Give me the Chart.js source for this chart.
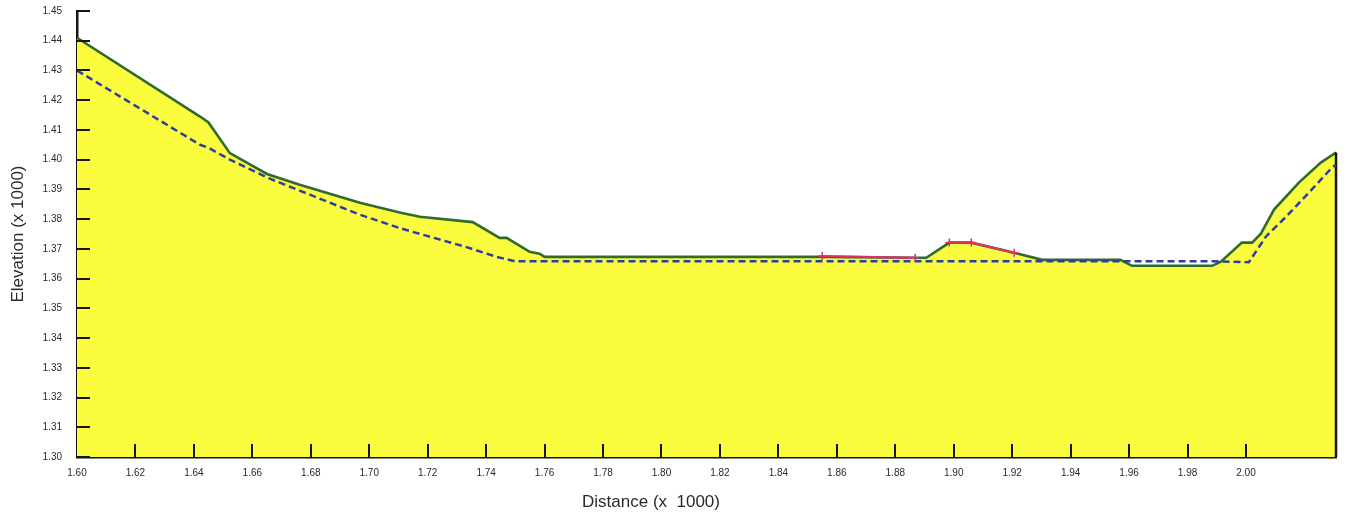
<!DOCTYPE html>
<html>
<head>
<meta charset="utf-8">
<title>Elevation profile</title>
<script src="https://cdn.jsdelivr.net/npm/chart.js@4"></script>
<style>
  html, body { margin: 0; padding: 0; background: #fff; }
  #wrap { width: 1346px; height: 517px; }
</style>
</head>
<body>
<div id="wrap"><canvas id="profile" width="1346" height="517"></canvas></div>
<script>
// profile values (x 1000)
const groundX = [1.600, 1.6421, 1.6450, 1.6523, 1.665, 1.6762, 1.6968, 1.7104, 1.7173, 1.7354, 1.7446, 1.7470, 1.7549, 1.7583, 1.7600,
  1.8550, 1.8868, 1.8906, 1.8985, 1.9060, 1.9207, 1.9303, 1.9570, 1.9610, 1.9884, 1.9914, 1.9986, 2.0021, 2.0051, 2.0096,
  2.0181, 2.0256, 2.0308];
const groundY = [1.4410, 1.4145, 1.4125, 1.4022, 1.3952, 1.3916, 1.3855, 1.3822, 1.3808, 1.3790, 1.3737, 1.3737, 1.3690, 1.3684, 1.3673,
  1.3673, 1.3670, 1.3670, 1.3721, 1.3721, 1.3687, 1.3663, 1.3663, 1.3643, 1.3643, 1.3657, 1.3721, 1.3721, 1.3751, 1.3832,
  1.3923, 1.3990, 1.4024];

const designX = [1.600, 1.6421, 1.6450, 1.6523, 1.665, 1.6762, 1.6968, 1.7104, 1.7217, 1.7333, 1.7436, 1.7500,
  1.9900, 2.0010, 2.0068, 2.0137, 2.0215, 2.0294, 2.0308];
const designY = [1.4300, 1.4050, 1.4040, 1.4000, 1.3940, 1.3896, 1.3815, 1.3770, 1.3738, 1.3706, 1.3673, 1.3658,
  1.3658, 1.3655, 1.3741, 1.3808, 1.3889, 1.3973, 1.3983];

// highlighted (red) stretches of the ground line
const redAX = [1.8550, 1.8868];
const redAY = [1.3676, 1.3670];
const redBX = [1.8985, 1.9060, 1.9207];
const redBY = [1.3721, 1.3721, 1.3687];

const xTickMax = 2.00;
const yMin = 1.30, yMax = 1.45;

const pts = (xs, ys) => xs.map((x, i) => ({ x, y: ys[i] }));
const lastX = groundX[groundX.length - 1];
const lastY = groundY[groundY.length - 1];

const axisColor = '#151515';
const textColor = '#2a2a2a';
const tickFont = { family: '"Liberation Sans", Arial, sans-serif', size: 10 };

// tick marks pointing into the plot, plus the x title
const innerTicks = {
  id: 'innerTicks',
  afterDatasetsDraw(chart) {
    const { ctx, chartArea: a, scales: { x, y } } = chart;
    ctx.save();
    ctx.strokeStyle = axisColor;
    ctx.lineWidth = 2;
    ctx.beginPath();
    y.ticks.forEach(t => {
      const py = Math.round(y.getPixelForValue(t.value));
      ctx.moveTo(a.left, py); ctx.lineTo(a.left + 13, py);
    });
    x.ticks.forEach(t => {
      if (t.value <= 1.6001) return;
      const px = Math.round(x.getPixelForValue(t.value));
      ctx.moveTo(px, a.bottom); ctx.lineTo(px, a.bottom - 13);
    });
    ctx.stroke();
    ctx.restore();
  },
  afterDraw(chart) {
    const { ctx } = chart;
    ctx.save();
    ctx.fillStyle = textColor;
    ctx.font = '17px "Liberation Sans", Arial, sans-serif';
    ctx.textAlign = 'center';
    ctx.textBaseline = 'middle';
    ctx.fillText('Distance (x  1000)', 651, 502);
    ctx.restore();
  }
};

new Chart(document.getElementById('profile'), {
  type: 'line',
  data: {
    datasets: [
      {
        label: 'Red A', data: pts(redAX, redAY), order: 0,
        borderColor: '#e0306a', borderWidth: 2.2, pointStyle: 'cross', pointRadius: 4,
        pointBorderColor: '#e0306a', pointBorderWidth: 1.5, fill: false
      },
      {
        label: 'Red B', data: pts(redBX, redBY), order: 0,
        borderColor: '#e0306a', borderWidth: 2.2, pointStyle: 'cross', pointRadius: 4,
        pointBorderColor: '#e0306a', pointBorderWidth: 1.5, fill: false
      },
      {
        label: 'Design', data: pts(designX, designY), order: 1,
        borderColor: '#2b3f9e', borderWidth: 2.5, borderDash: [7, 4], pointRadius: 0, fill: false
      },
      {
        label: 'Edge', data: [{ x: lastX, y: lastY }, { x: lastX, y: yMin }], order: 2,
        borderColor: axisColor, borderWidth: 2.5, pointRadius: 0, fill: false, clip: false
      },
      {
        label: 'Ground', data: pts(groundX, groundY), order: 3,
        borderColor: '#2f6b2c', borderWidth: 2.6, pointRadius: 0,
        fill: 'start', backgroundColor: '#fcfc3e'
      }
    ]
  },
  options: {
    responsive: false,
    animation: false,
    parsing: true,
    layout: { padding: { top: 11, right: 10, left: 0, bottom: 0 } },
    plugins: { legend: { display: false }, tooltip: { enabled: false } },
    elements: { line: { tension: 0 } },
    scales: {
      x: {
        type: 'linear', min: 1.60, max: lastX,
        afterBuildTicks: s => { s.ticks = s.ticks.filter(t => t.value <= xTickMax + 1e-6); },
        afterFit: s => { s.height = 60; s.paddingLeft = 0; s.paddingRight = 0; },
        grid: { display: false, drawTicks: false },
        border: { display: true, color: axisColor, width: 2.5 },
        ticks: { stepSize: 0.02, autoSkip: false, maxRotation: 0, padding: 10, color: textColor, font: tickFont,
          callback: v => v.toFixed(2) }
      },
      y: {
        type: 'linear', min: yMin, max: yMax,
        afterFit: s => { s.width = 77; s.paddingTop = 0; s.paddingBottom = 0; },
        grid: { display: false, drawTicks: false },
        border: { display: true, color: axisColor, width: 2.5 },
        ticks: { stepSize: 0.01, autoSkip: false, padding: 15, color: textColor, font: tickFont,
          callback: v => v.toFixed(2) },
        title: { display: true, text: 'Elevation (x 1000)', color: textColor,
          font: { family: '"Liberation Sans", Arial, sans-serif', size: 17 }, padding: { top: 8, bottom: 0 } }
      }
    }
  },
  plugins: [innerTicks]
});
</script>
</body>
</html>
